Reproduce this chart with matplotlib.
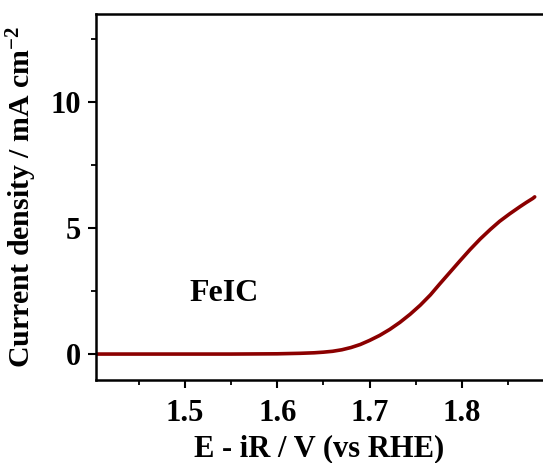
import numpy as np
import matplotlib
matplotlib.use("Agg")
import matplotlib.pyplot as plt
from matplotlib.ticker import MultipleLocator

# LSV curve
potential = [1.404, 1.45, 1.50, 1.55, 1.60, 1.625, 1.64, 1.65, 1.66, 1.67,
             1.68, 1.69, 1.70, 1.711, 1.722, 1.733, 1.744, 1.755, 1.766,
             1.776, 1.787, 1.798, 1.809, 1.82, 1.831, 1.841, 1.852, 1.863,
             1.870, 1.877, 1.879]
current = [0.0, 0.0, 0.0, 0.0, 0.01, 0.03, 0.05, 0.075, 0.11, 0.17,
           0.26, 0.38, 0.54, 0.74, 0.98, 1.26, 1.58, 1.94, 2.35,
           2.78, 3.24, 3.70, 4.15, 4.57, 4.95, 5.27, 5.57, 5.85,
           6.02, 6.18, 6.24]
sample_label = "FeIC"

plt.rcParams["font.family"] = ["Liberation Serif", "DejaVu Serif"]
plt.rcParams["font.weight"] = "bold"
plt.rcParams["mathtext.fontset"] = "custom"
plt.rcParams["mathtext.rm"] = "Liberation Serif:bold"
plt.rcParams["mathtext.default"] = "rm"

fig = plt.figure(figsize=(5.43, 4.63), dpi=100)
ax = fig.add_axes([96 / 543, 1 - 380 / 463, 1 - 96 / 543, (380 - 14) / 463])

ax.plot(potential, current, color="#8B0000", lw=2.6,
        solid_joinstyle="round", solid_capstyle="round")

ax.text(1.542, 2.42, sample_label, fontsize=23, fontweight="bold",
        ha="center", va="center")

ax.set_xlim(1.4036, 1.888)
ax.set_ylim(-1.03, 13.5)
ax.xaxis.set_major_locator(MultipleLocator(0.1))
ax.xaxis.set_minor_locator(MultipleLocator(0.05))
ax.yaxis.set_major_locator(MultipleLocator(5))
ax.yaxis.set_minor_locator(MultipleLocator(2.5))

ax.spines["right"].set_visible(False)
for s in ["left", "bottom", "top"]:
    ax.spines[s].set_linewidth(1.8)

ax.tick_params(which="major", direction="out", length=6, width=1.5,
               labelsize=22, pad=8)
ax.tick_params(which="minor", direction="out", length=3.5, width=1.3)
ax.tick_params(axis="y", pad=5)

ax.set_xlabel("E - iR / V (vs RHE)", fontsize=22, fontweight="bold", labelpad=4)
ax.set_ylabel(r"Current density / mA cm$^{-2}$", fontsize=21.5,
              fontweight="bold", labelpad=8)

fig.savefig("out.png", dpi=100)
